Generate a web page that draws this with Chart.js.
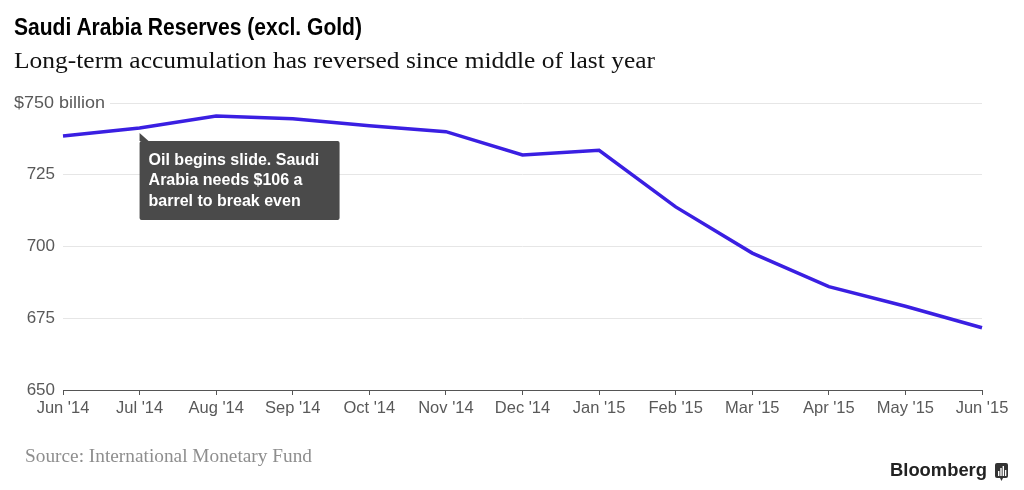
<!DOCTYPE html>
<html>
<head>
<meta charset="utf-8">
<script src="https://cdn.jsdelivr.net/npm/chart.js@4/dist/chart.umd.min.js"></script>
<style>
  html, body { margin: 0; padding: 0; background: #fff; }
  #wrap { position: relative; width: 1024px; height: 490px; overflow: hidden; }
  canvas { position: absolute; left: 0; top: 0; }
  .txt { position: absolute; white-space: nowrap; transform-origin: 0 0; line-height: 1; }
  #title { font-family: "Liberation Sans", Arial, sans-serif; font-weight: bold; font-size: 23px; color: #000; }
  #subtitle { font-family: "Liberation Serif", "DejaVu Serif", serif; font-size: 23px; color: #111; }
  #source { font-family: "Liberation Serif", "DejaVu Serif", serif; font-size: 18px; color: #8e8e8e; }
  #brand { font-family: "Liberation Sans", Arial, sans-serif; font-weight: bold; font-size: 19px; color: #222; }
  #logo { position: absolute; left: 995px; top: 463px; }
</style>
</head>
<body>
<div id="wrap">
  <canvas id="c" width="1024" height="490"></canvas>
  <div id="title" class="txt">Saudi Arabia Reserves (excl. Gold)</div>
  <div id="subtitle" class="txt">Long-term accumulation has reversed since middle of last year</div>
  <div id="source" class="txt">Source: International Monetary Fund</div>
  <div id="brand" class="txt">Bloomberg</div>
  <svg id="logo" width="13" height="18" viewBox="0 0 13 18">
    <rect x="0" y="0" width="13" height="15" rx="2" fill="#333"/>
    <polygon points="5,15 8,15 6.5,18" fill="#333"/>
    <rect x="3" y="8" width="1.4" height="5" fill="#fff"/>
    <rect x="5.3" y="5" width="1.4" height="8" fill="#fff"/>
    <rect x="7.6" y="3" width="1.4" height="10" fill="#fff"/>
    <rect x="9.9" y="7" width="1.4" height="6" fill="#fff"/>
  </svg>
</div>
<script>
const categories = ["Jun '14","Jul '14","Aug '14","Sep '14","Oct '14","Nov '14","Dec '14","Jan '15","Feb '15","Mar '15","Apr '15","May '15","Jun '15"];
const reserves = [738.5, 741.3, 745.5, 744.5, 742.1, 740.0, 731.9, 733.5, 713.8, 697.7, 686.0, 679.2, 671.7];
const yTickValues = [650, 675, 700, 725, 750];
const yTickLabels = ["650", "675", "700", "725", "$750 billion"];
const annotationIndex = 1;
const annotationLines = ["Oil begins slide. Saudi", "Arabia needs $106 a", "barrel to break even"];

// Fit HTML text blocks to reference positions/widths
function place(id, left, top, width) {
  const el = document.getElementById(id);
  el.style.left = left + 'px';
  el.style.top = top + 'px';
  const w = el.getBoundingClientRect().width;
  el.style.transform = 'scaleX(' + (width / w) + ')';
}
place('title', 14, 16, 348);
place('subtitle', 14, 49, 641);
place('source', 25, 447, 287);
place('brand', 890, 460, 97);

const labelFont = '17px "Liberation Sans", Arial, sans-serif';

const customPlugin = {
  id: 'custom',
  afterDraw(chart) {
    const ctx = chart.ctx;
    const ys = chart.scales.y, xs = chart.scales.x;
    ctx.save();
    // y labels
    ctx.font = labelFont;
    ctx.fillStyle = '#595959';
    ctx.textBaseline = 'middle';
    yTickValues.forEach((v, i) => {
      const py = ys.getPixelForValue(v);
      const lab = yTickLabels[i];
      if (i === yTickValues.length - 1) {
        const w = ctx.measureText(lab).width;
        const target = 91;
        ctx.fillStyle = '#fff';
        ctx.fillRect(chart.chartArea.left - 2, py - 3, 14 + target + 5 - chart.chartArea.left + 2, 6);
        ctx.fillStyle = '#595959';
        ctx.textAlign = 'left';
        ctx.save();
        ctx.translate(14, py);
        ctx.scale(target / w, 1);
        ctx.fillText(lab, 0, 0);
        ctx.restore();
      } else {
        ctx.textAlign = 'right';
        ctx.fillText(lab, 55, py);
      }
    });
    // annotation
    const px = xs.getPixelForValue(annotationIndex);
    const py = ys.getPixelForValue(reserves[annotationIndex]);
    const boxL = px, boxT = py + 13, boxW = 200, boxH = 79;
    ctx.fillStyle = '#4a4a4a';
    ctx.beginPath();
    ctx.moveTo(px, py + 5);
    ctx.lineTo(px + 9, boxT);
    ctx.lineTo(px, boxT);
    ctx.closePath();
    ctx.fill();
    ctx.beginPath();
    ctx.roundRect(boxL, boxT, boxW, boxH, 2);
    ctx.fill();
    ctx.fillStyle = '#fff';
    ctx.font = 'bold 16px "Liberation Sans", Arial, sans-serif';
    ctx.textAlign = 'left';
    ctx.textBaseline = 'alphabetic';
    annotationLines.forEach((t, i) => {
      ctx.fillText(t, boxL + 9, boxT + 24 + i * 20.5, 180);
    });
    ctx.restore();
  }
};

new Chart(document.getElementById('c'), {
  type: 'line',
  data: {
    labels: categories,
    datasets: [{
      data: reserves,
      borderColor: '#3a1fe2',
      borderWidth: 3.5,
      pointRadius: 0,
      tension: 0,
      clip: false,
      fill: false
    }]
  },
  options: {
    responsive: false,
    animation: false,
    events: [],
    layout: { padding: { left: 63, right: 42, top: 103, bottom: 0 } },
    plugins: { legend: { display: false }, tooltip: { enabled: false }, title: { display: false } },
    scales: {
      x: {
        type: 'category',
        offset: false,
        border: { display: true, color: '#555', width: 1 },
        grid: { display: true, drawOnChartArea: false, drawTicks: true, tickLength: 5, color: '#555' },
        ticks: { color: '#595959', font: { family: '"Liberation Sans", Arial, sans-serif', size: 16.5 }, padding: 4, maxRotation: 0, autoSkip: false },
        afterFit(scale) { scale.height = 100; }
      },
      y: {
        min: 650, max: 750,
        afterBuildTicks(scale) { scale.ticks = yTickValues.map(v => ({ value: v })); },
        border: { display: false },
        grid: { color: '#e6e6e6', lineWidth: 1, drawTicks: false },
        ticks: { display: false },
        afterFit(scale) { scale.width = 0; }
      }
    }
  },
  plugins: [customPlugin]
});
</script>
</body>
</html>
